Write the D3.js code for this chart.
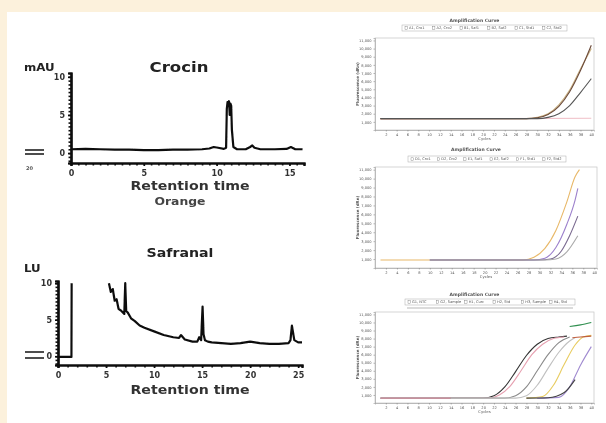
<!DOCTYPE html>
<html>
<head>
<meta charset="utf-8">
<script src="https://cdn.jsdelivr.net/npm/d3@7"></script>
<style>
  body { margin: 0; background: #fcf1dc; }
  svg { display: block; }
  text { font-family: "DejaVu Sans", sans-serif; }
</style>
</head>
<body>
<svg id="chart" width="606" height="423"></svg>
<script>
// ---- HPLC traces (retention time in min, signal) ----
const crocinTime   = [0, 1, 2, 3, 4, 5, 6, 7, 8, 9, 9.5, 9.8, 10.1, 10.5, 10.65, 10.7, 10.75, 10.8, 10.85, 10.9, 10.95, 11.0, 11.05, 11.15, 11.4, 12, 12.3, 12.45, 12.6, 13, 14, 14.8, 15.1, 15.4, 15.9];
const crocinSignal = [0.5, 0.55, 0.5, 0.45, 0.45, 0.4, 0.4, 0.45, 0.45, 0.5, 0.6, 0.8, 0.7, 0.55, 0.7, 5.8, 6.7, 6.2, 6.8, 5.0, 6.5, 6.2, 3, 0.8, 0.5, 0.5, 0.8, 1.0, 0.7, 0.5, 0.5, 0.55, 0.8, 0.5, 0.5];
const crocinXTicks = [0, 5, 10, 15];
const crocinYTicks = [0, 5, 10];

// null = trace is off scale
const safranalTime   = [0, 1.4, 1.42, 1.5, 5.3, 5.5, 5.7, 5.9, 6.1, 6.3, 6.6, 6.9, 7.0, 7.1, 7.25, 7.6, 8.0, 8.5, 9.0, 10, 11, 12, 12.6, 12.8, 13.2, 14, 14.5, 14.7, 14.9, 15.05, 15.15, 15.3, 15.6, 16, 17, 18, 19, 20, 21, 22, 23, 24, 24.2, 24.35, 24.6, 25, 25.4];
const safranalSignal = [-0.1, -0.1, 10, null, 10, 8.8, 9.2, 7.6, 7.8, 6.5, 6.2, 5.8, 10, 6.2, 6.0, 5.2, 4.8, 4.2, 3.9, 3.4, 2.9, 2.6, 2.5, 2.9, 2.3, 2.0, 2.0, 2.6, 2.2, 6.8, 3.0, 2.2, 2.0, 1.9, 1.8, 1.7, 1.8, 2.0, 1.8, 1.7, 1.7, 1.8, 2.2, 4.2, 2.2, 1.9, 1.9];
const safranalXTicks = [0, 5, 10, 15, 20, 25];
const safranalYTicks = [0, 5, 10];

// ---- qPCR amplification curves: [cycle, fluorescence] ----
const cycleTicks = d3.range(2, 41, 2);
const fluorTicks = d3.range(1000, 11001, 1000);
const legend1 = ["A1, Cro1", "A2, Cro2", "B1, Saf1", "B2, Saf2", "C1, Std1", "C2, Std2"];
const legend2 = ["D1, Cro1", "D2, Cro2", "E1, Saf1", "E2, Saf2", "F1, Std1", "F2, Std2"];
const legend3 = ["G1, NTC", "G2, Sample", "H1, Curc", "H2, Std", "H3, Sample", "H4, Std"];

const amp1 = [
  [[1, 1350], [20, 1380], [40, 1450]],
  [[1, 1400], [28, 1400], [30, 1550], [32, 2000], [34, 3100], [36, 4900], [38, 7500], [40, 10000]],
  [[1, 1400], [28, 1400], [30, 1500], [32, 1900], [34, 2900], [36, 4700], [38, 7300], [40, 10400]],
  [[1, 1400], [30, 1400], [32, 1550], [34, 2000], [36, 3000], [38, 4600], [40, 6300]]
];
const amp2 = [
  [[1, 900], [27, 900], [29, 1200], [31, 2200], [33, 4200], [35, 7400], [36.5, 10200], [37.3, 11000]],
  [[10, 900], [29, 900], [31, 1100], [33, 2300], [35, 4900], [36.5, 7600], [37, 8900]],
  [[10, 900], [30, 900], [32, 1000], [34, 1900], [35.5, 3600], [37, 5800]],
  [[10, 900], [31, 900], [33, 1000], [35, 1800], [37, 3600]]
];
const amp3 = [
  [[1, 600], [20, 600], [22, 900], [24, 2000], [26, 3900], [28, 5900], [30, 7300], [32, 8000], [34, 8200], [35.5, 8300]],
  [[1, 600], [21, 600], [23, 1000], [25, 2100], [27, 4000], [29, 6000], [31, 7300], [33, 8000], [35, 8200]],
  [[14, 600], [24, 600], [26, 900], [28, 2000], [30, 4000], [32, 6000], [34, 7500], [36, 8200]],
  [[14, 600], [26, 600], [28, 900], [30, 2200], [32, 4300], [34, 6300], [36, 7700], [37, 8100]],
  [[28, 600], [31, 800], [33, 2200], [35, 4800], [37, 7200], [38.5, 8200], [40, 8400]],
  [[30, 600], [34, 700], [36, 2000], [38, 4700], [40, 7000]],
  [[28, 600], [32, 650], [35, 1300], [37, 2900]],
  [[36, 9500], [38, 9700], [40, 10000]],
  [[36.5, 8100], [38, 8200], [40, 8300]]
];
const amp1Colors = ["#f0c0c8", "#c8b080", "#6b4a3a", "#555555"];
const amp2Colors = ["#e8b868", "#9c80cc", "#7a6a90", "#aaaaaa"];
const amp3Colors = ["#333333", "#e6a0b0", "#8a8a8a", "#c0c0c0", "#e8cc60", "#a08ad0", "#444444", "#2f8f4f", "#c06040"];

const svg = d3.select("#chart");

const defs = svg.append("defs");
defs.append("filter").attr("id", "soft")
  .append("feGaussianBlur").attr("stdDeviation", 0.5);
defs.append("filter").attr("id", "softer")
  .append("feGaussianBlur").attr("stdDeviation", 0.7);

// white figure area
svg.append("rect").attr("x", 7).attr("y", 12).attr("width", 599).attr("height", 411).attr("fill", "#fff");

// the figure is stretched sideways, so labels get a horizontal scale
function wideText(g, x, y, str, size, fill, anchor) {
  return g.append("text")
    .attr("transform", `translate(${x},${y}) scale(1.18,1)`)
    .attr("text-anchor", anchor || "middle")
    .attr("font-size", size).attr("font-weight", "bold").attr("fill", fill).text(str);
}

// chromatogram panel
function chromatogram(o) {
  const g = svg.append("g").attr("filter", "url(#soft)");
  const x = d3.scaleLinear().domain(o.xDomain).range(o.xRange);
  const y = d3.scaleLinear().domain(o.yDomain).range(o.yRange);

  const yAxis = g.append("g").attr("transform", `translate(${o.xRange[0]},0)`)
    .call(d3.axisLeft(y).tickValues(o.yTicks).tickSize(3).tickPadding(3).tickFormat(d3.format("d")));
  const yMinor = g.append("g").attr("transform", `translate(${o.xRange[0]},0)`)
    .call(d3.axisLeft(y).tickValues(d3.range(-1, o.yDomain[1], 0.5)).tickSize(2.5).tickFormat(""));
  const xAxis = g.append("g").attr("transform", `translate(0,${o.yRange[0]})`)
    .call(d3.axisBottom(x).tickValues(o.xTicks).tickSize(3).tickPadding(4).tickFormat(d3.format("d")));
  const xMinor = g.append("g").attr("transform", `translate(0,${o.yRange[0]})`)
    .call(d3.axisBottom(x).tickValues(d3.range(0, o.xDomain[1], o.xMinor)).tickSize(2.5).tickFormat(""));

  [yAxis, yMinor, xAxis, xMinor].forEach(a => {
    a.select(".domain").attr("stroke", "#111").attr("stroke-width", 2.2);
    a.selectAll(".tick line").attr("stroke", "#111").attr("stroke-width", 1.6);
    a.selectAll(".tick text").attr("fill", "#333").attr("font-size", 8).attr("font-weight", "bold")
      .attr("font-family", "DejaVu Sans, sans-serif");
  });

  const line = d3.line()
    .defined(d => d[1] !== null)
    .x(d => x(d[0]))
    .y(d => y(d[1]));
  const pts = o.time.map((t, i) => [t, o.signal[i]]);
  g.append("path").datum(pts)
    .attr("d", line)
    .attr("fill", "none")
    .attr("stroke", "#111")
    .attr("stroke-width", 2.2)
    .attr("stroke-linejoin", "round");

  wideText(g, o.titleX, o.titleY, o.title, o.titleSize, "#222");
  wideText(g, o.unitX, o.unitY, o.unit, 10, "#222", "start");
  wideText(g, 190, o.xLabelY, "Retention time", 12, "#333");

  // cropped legend remnant at left margin
  o.stubs.forEach(s => {
    g.append("line").attr("x1", 25).attr("x2", 44).attr("y1", s).attr("y2", s)
      .attr("stroke", "#222").attr("stroke-width", 1.6);
  });
  return g;
}

const crocin = chromatogram({
  xDomain: [0, 16], xRange: [71, 304],
  yDomain: [-1.3, 10.5], yRange: [163, 73],
  xTicks: crocinXTicks, yTicks: crocinYTicks, xMinor: 0.5,
  time: crocinTime, signal: crocinSignal,
  title: "Crocin", titleX: 179, titleY: 72, titleSize: 14,
  unit: "mAU", unitX: 24, unitY: 71, xLabelY: 190,
  stubs: [150, 154]
});
wideText(crocin, 180, 205, "Orange", 10.5, "#444");
crocin.append("text").attr("x", 26).attr("y", 170)
  .attr("font-size", 5).attr("font-weight", "bold").attr("fill", "#555").text("20");

chromatogram({
  xDomain: [0, 25.4], xRange: [58, 302],
  yDomain: [-1.2, 10.3], yRange: [365, 281],
  xTicks: safranalXTicks, yTicks: safranalYTicks, xMinor: 1,
  time: safranalTime, signal: safranalSignal,
  title: "Safranal", titleX: 180, titleY: 257, titleSize: 12,
  unit: "LU", unitX: 24, unitY: 272, xLabelY: 394,
  stubs: [352, 358]
});

// qPCR amplification panel
function ampPanel(p, curves, colors, legend) {
  const g = svg.append("g").attr("filter", "url(#softer)");
  const x = d3.scaleLinear().domain([0, 40.5]).range([p.left, p.right]);
  const y = d3.scaleLinear().domain([0, 11300]).range([p.bottom, p.top]);

  g.append("text").attr("x", (p.left + p.right) / 2 - 10).attr("y", p.titleY)
    .attr("text-anchor", "middle").attr("font-size", 4.5).attr("font-weight", "bold")
    .attr("fill", "#555").text("Amplification Curve");

  // legend strip
  const lg = g.append("g");
  const lw = (p.legendRight - p.legendLeft) / legend.length;
  lg.append("rect").attr("x", p.legendLeft).attr("y", p.legendY - 3)
    .attr("width", p.legendRight - p.legendLeft).attr("height", 6)
    .attr("fill", "none").attr("stroke", "#aaa").attr("stroke-width", 0.5);
  legend.forEach((d, i) => {
    const lx = p.legendLeft + i * lw + 3;
    lg.append("rect").attr("x", lx).attr("y", p.legendY - 1.2).attr("width", 2.4).attr("height", 2.4)
      .attr("fill", "none").attr("stroke", "#777").attr("stroke-width", 0.4);
    lg.append("text").attr("x", lx + 4).attr("y", p.legendY + 1.3)
      .attr("font-size", 3.6).attr("fill", "#555").text(d);
  });
  if (p.underline) {
    g.append("line").attr("x1", p.legendLeft + 2).attr("x2", p.legendRight - 2)
      .attr("y1", p.legendY + 6).attr("y2", p.legendY + 6).attr("stroke", "#888").attr("stroke-width", 0.6);
  }

  g.append("rect").attr("x", p.left).attr("y", p.top)
    .attr("width", p.right - p.left).attr("height", p.bottom - p.top)
    .attr("fill", "#fff").attr("stroke", "#c4c4c4").attr("stroke-width", 0.7);

  const ya = g.append("g").attr("transform", `translate(${p.left},0)`)
    .call(d3.axisLeft(y).tickValues(fluorTicks).tickSize(1.5).tickPadding(2).tickFormat(d3.format(",")));
  const xa = g.append("g").attr("transform", `translate(0,${p.bottom})`)
    .call(d3.axisBottom(x).tickValues(cycleTicks).tickSize(1.5).tickPadding(1.5).tickFormat(d3.format("d")));
  [ya, xa].forEach(a => {
    a.select(".domain").attr("stroke", "#999").attr("stroke-width", 0.6);
    a.selectAll(".tick line").attr("stroke", "#888").attr("stroke-width", 0.6);
    a.selectAll(".tick text").attr("font-size", 3.6).attr("fill", "#555")
      .attr("font-family", "DejaVu Sans, sans-serif");
  });

  g.append("text").attr("transform", `translate(${p.left - 16},${(p.top + p.bottom) / 2}) rotate(-90)`)
    .attr("text-anchor", "middle").attr("font-size", 4).attr("font-weight", "bold")
    .attr("fill", "#555").text("Fluorescence (dRn)");
  g.append("text").attr("x", (p.left + p.right) / 2).attr("y", p.bottom + 10)
    .attr("text-anchor", "middle").attr("font-size", 3.8).attr("fill", "#555").text("Cycles");

  const line = d3.line().x(d => x(d[0])).y(d => y(d[1])).curve(d3.curveMonotoneX);
  g.selectAll(".curve").data(curves).join("path")
    .attr("class", "curve")
    .attr("d", line)
    .attr("fill", "none")
    .attr("stroke", (d, i) => colors[i])
    .attr("stroke-width", 1.1);
}

ampPanel({ left: 375, right: 594, top: 38, bottom: 130, titleY: 22, legendY: 28, legendLeft: 402, legendRight: 567 },
  amp1, amp1Colors, legend1);
ampPanel({ left: 375, right: 597, top: 167, bottom: 268, titleY: 151, legendY: 159, legendLeft: 408, legendRight: 566 },
  amp2, amp2Colors, legend2);
ampPanel({ left: 375, right: 594, top: 312, bottom: 403, titleY: 296, legendY: 302, legendLeft: 405, legendRight: 575, underline: true },
  amp3, amp3Colors, legend3);
</script>
</body>
</html>
